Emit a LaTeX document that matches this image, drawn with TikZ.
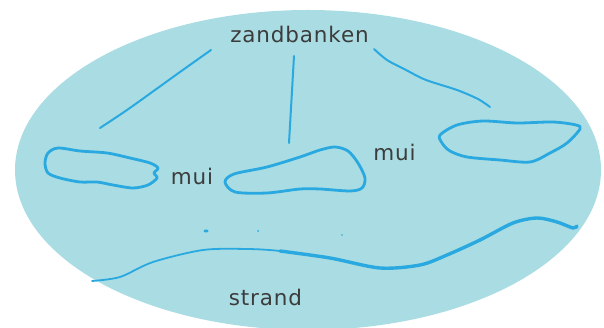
\documentclass[tikz,border=0pt]{standalone}
\usepackage{fontspec}
\newfontfamily\lblfont{DejaVu Sans}[LetterSpace=4]
\definecolor{zee}{HTML}{A9DDE3}
\definecolor{lijn}{HTML}{2AA8E0}
\definecolor{tekst}{HTML}{3C3C3C}
\tikzset{
 lbl/.style={anchor=base, inner sep=0pt, text=tekst, font=\lblfont\fontsize{21.5}{26}\selectfont},
 bank/.style={draw=lijn, line width=2.8pt, line join=round},
 pen/.style={draw=lijn, line width=2pt, line cap=round, line join=round},
}

\begin{document}
\begin{tikzpicture}[x=1pt,y=-1pt]
 \useasboundingbox (0,0) rectangle (604,328);
 \clip (0,0) rectangle (604,328);
 \fill[zee] (308,170) ellipse [x radius=293pt, y radius=160pt]; %海
 \node[lbl] (Z) at (299.5,43) {zandbanken}; %砂州
 \node[lbl] (M1) at (192,185) {mui}; %溝1
 \node[lbl] (M2) at (394.5,161) {mui}; %溝2
 \node[lbl] (S) at (265.5,305) {strand}; %浜
 \coordinate (L0) at (211,50); %左線の始点
 \coordinate (L1) at (100,128); %左線の終点
 \coordinate (C0) at (294,56); %中線の始点
 \coordinate (C1) at (289,143); %中線の終点
 \coordinate (R0) at (374,49); %右線の始点
 \coordinate (R1) at (490,107); %右線の終点
 \draw[pen] plot[smooth] coordinates {(L0) (180,72) (155,90) (127,110) (L1)};
 \draw[pen] (C0)--(C1);
 \draw[pen] plot[smooth] coordinates {(R0) (387,60) (406,70) (426,80) (457,90) (478,99) (R1)};
 \draw[bank] plot[smooth cycle] coordinates {(48,153) (58,148) (80,151) (107,153) (130,158) (150,163) (158,168) (154,173) (157,178) (148,185) (133,188) (113,185) (97,182) (80,182) (60,178) (48,173) (45,163)}; %砂州1
 \draw[bank] plot[smooth cycle] coordinates {(225,182) (234,174) (267,167) (300,157) (320,150) (335,147) (348,151) (358,163) (365,178) (362,188) (350,191) (320,189) (300,189) (267,193) (235,192)}; %砂州2
 \draw[bank] plot[smooth cycle, tension=0.5] coordinates {(440,135) (457,125) (483,121) (517,123) (553,122) (576,125) (580,129) (567,143) (550,153) (530,162) (500,160) (467,157) (450,151) (442,143)}; %砂州3
 \coordinate (S0) at (92,281); %浜線の始点
 \coordinate (S1) at (577,226); %浜線の終点
 \draw[pen, line width=1.8pt] plot[smooth] coordinates {(S0) (120,277) (153,262) (203,250) (247,249) (280,251) (330,258)};
 \draw[pen, line width=3.4pt] plot[smooth] coordinates {(280,251) (330,258) (380,268) (420,265) (447,255) (480,240) (513,223) (537,218) (557,222) (573,228) (S1)};
 \fill[lijn] (206,231) ellipse [x radius=2.5pt, y radius=1.5pt];
 \fill[lijn] (258,231) circle (1pt);
 \fill[lijn] (342,235) circle (0.8pt);
\end{tikzpicture}
\end{document}
